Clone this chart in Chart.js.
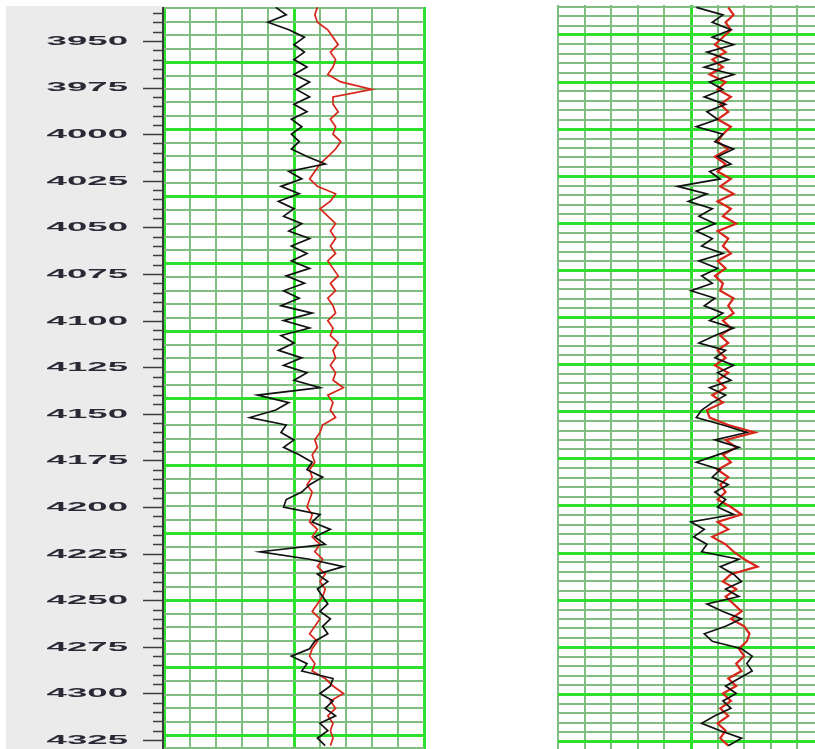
<!DOCTYPE html>
<html>
<head>
<meta charset="utf-8">
<script src="https://cdn.jsdelivr.net/npm/chart.js@4.4.1/dist/chart.umd.min.js"></script>
<style>
  html, body { margin: 0; padding: 0; background: #fff; overflow: hidden; width: 815px; height: 749px; }
  #wrap { position: relative; width: 815px; height: 749px; overflow: hidden; }
  #left { position: absolute; left: 0; top: 0; }
  #right { position: absolute; left: 556px; top: 0; }
</style>
</head>
<body>
<div id="wrap">
  <canvas id="left" width="430" height="749"></canvas>
  <canvas id="right" width="270" height="749"></canvas>
</div>
<script>
// depth samples (shared by all four curves)
const DEPTHS = [
  3932, 3936, 3940, 3944, 3948, 3952, 3956, 3960, 3964, 3968,
  3972, 3976, 3980, 3984, 3988, 3992, 3996, 4000, 4004, 4008,
  4012, 4016, 4020, 4024, 4028, 4032, 4036, 4040, 4044, 4048,
  4052, 4056, 4060, 4064, 4068, 4072, 4076, 4080, 4084, 4088,
  4092, 4096, 4100, 4104, 4108, 4112, 4116, 4120, 4124, 4128,
  4132, 4136, 4140, 4144, 4148, 4152, 4156, 4160, 4164, 4168,
  4172, 4176, 4180, 4184, 4188, 4192, 4196, 4200, 4204, 4208,
  4212, 4216, 4220, 4224, 4228, 4232, 4236, 4240, 4244, 4248,
  4252, 4256, 4260, 4264, 4268, 4272, 4276, 4280, 4284, 4288,
  4292, 4296, 4300, 4304, 4308, 4312, 4316, 4320, 4324, 4328
];

// left track, values in grid divisions (0..10)
const LEFT_BLACK = [
  4.3, 4.7, 4.0, 4.8, 5.4, 5.0, 5.4, 5.0, 5.5, 5.0,
  5.6, 5.1, 5.6, 5.0, 5.5, 4.9, 5.3, 4.9, 5.2, 4.9,
  5.5, 6.2, 4.8, 5.3, 4.5, 5.2, 4.4, 5.0, 4.6, 5.3,
  4.8, 5.6, 4.9, 5.5, 4.9, 5.6, 4.7, 5.4, 4.6, 5.2,
  4.5, 5.7, 4.6, 5.6, 4.5, 5.0, 4.4, 5.3, 4.6, 5.5,
  5.0, 6.0, 3.6, 4.8, 4.3, 3.3, 4.7, 4.5, 5.0, 4.6,
  5.2, 5.7, 5.5, 6.1, 5.6, 5.3, 4.7, 4.6, 6.0, 5.7,
  6.4, 5.8, 6.2, 3.7, 5.6, 6.9, 5.9, 6.3, 5.9, 6.1,
  6.3, 6.0, 6.4, 6.1, 6.3, 5.8, 5.6, 4.9, 5.5, 5.3,
  6.5, 6.4, 6.0, 6.5, 6.2, 6.6, 6.0, 6.3, 5.9, 6.2
];
const LEFT_RED = [
  5.9, 5.8, 5.9, 6.3, 6.5, 6.7, 6.4, 6.6, 6.5, 6.3,
  6.8, 8.0, 6.5, 6.5, 6.7, 6.4, 6.6, 6.5, 6.8, 6.6,
  6.3, 6.0, 5.8, 5.6, 5.9, 6.6, 6.4, 6.0, 6.3, 6.6,
  6.4, 6.6, 6.4, 6.6, 6.3, 6.5, 6.7, 6.4, 6.6, 6.3,
  6.5, 6.6, 6.3, 6.5, 6.4, 6.7, 6.5, 6.6, 6.4, 6.6,
  6.5, 6.9, 6.3, 6.5, 6.4, 6.6, 6.1, 6.0, 5.8, 5.9,
  5.7, 5.8, 5.6, 5.7, 5.5, 5.7, 5.6, 5.5, 5.7, 5.6,
  5.9, 5.7, 6.0, 5.8, 6.1, 5.9, 6.2, 6.0, 6.2, 6.1,
  5.9, 5.7, 6.0, 5.8, 5.6, 5.9, 5.7, 5.6, 5.8, 5.7,
  6.2, 6.5, 6.9, 6.4, 6.6, 6.3, 6.5, 6.4, 6.5, 6.4
];

// right track
const RIGHT_BLACK = [
  5.2, 6.2, 5.8, 6.5, 5.8, 6.6, 5.6, 6.4, 5.5, 6.6,
  5.7, 6.2, 5.5, 6.3, 5.6, 6.0, 5.2, 6.2, 5.9, 6.6,
  6.0, 6.5, 5.7, 6.1, 4.5, 5.6, 4.9, 5.8, 5.3, 5.9,
  5.2, 5.8, 5.4, 6.2, 5.3, 6.0, 5.4, 5.8, 5.0, 5.9,
  5.5, 6.2, 5.7, 6.6, 5.9, 5.3, 6.3, 5.9, 6.6, 6.0,
  6.5, 5.7, 6.3, 5.8, 5.4, 5.2, 6.2, 7.1, 5.9, 6.8,
  6.0, 5.2, 6.1, 5.8, 6.4, 5.9, 6.3, 6.0, 6.6, 5.0,
  5.5, 5.1, 5.6, 5.4, 6.8, 6.1, 6.6, 6.9, 6.3, 6.8,
  5.6, 6.2, 6.9, 6.3, 5.5, 5.8, 6.9, 7.3, 7.1, 7.3,
  6.8, 6.3, 6.7, 6.2, 6.5, 5.9, 5.4, 6.1, 6.9, 6.4
];
const RIGHT_RED = [
  6.4, 6.6, 6.3, 6.5, 6.2, 5.9, 6.3, 5.8, 6.2, 5.7,
  6.3, 6.0, 6.5, 6.1, 6.4, 6.0, 6.5, 6.2, 6.0, 6.4,
  5.9, 6.3, 6.0, 6.5, 6.1, 6.6, 6.0, 6.5, 6.2, 6.7,
  6.0, 6.4, 6.2, 6.5, 6.0, 6.3, 5.9, 6.2, 6.1, 6.6,
  6.4, 6.6, 6.2, 6.5, 6.1, 6.4, 6.0, 6.3, 5.9, 6.4,
  6.0, 6.3, 5.8, 6.2, 5.6, 5.7, 6.4, 7.4, 6.3, 6.7,
  6.2, 6.5, 6.0, 6.4, 6.1, 6.3, 6.0, 6.5, 6.9, 6.0,
  6.4, 5.8, 6.3, 6.6, 7.0, 7.5, 6.5, 6.2, 6.7, 6.3,
  6.6, 6.9, 6.5, 7.0, 7.2, 7.1, 6.8, 7.0, 6.7, 6.9,
  6.4, 6.7, 6.2, 6.5, 6.1, 6.4, 6.0, 6.3, 6.1, 6.4
];

// depth axis labels (left)
const DEPTH_LABELS = [3950, 3975, 4000, 4025, 4050, 4075, 4100, 4125, 4150, 4175, 4200, 4225, 4250, 4275, 4300, 4325];
const DEPTH_MINOR = [
  3935, 3940, 3945, 3955, 3960, 3965, 3970, 3980, 3985, 3990, 3995, 4005, 4010, 4015, 4020,
  4030, 4035, 4040, 4045, 4055, 4060, 4065, 4070, 4080, 4085, 4090, 4095, 4105, 4110, 4115, 4120,
  4130, 4135, 4140, 4145, 4155, 4160, 4165, 4170, 4180, 4185, 4190, 4195, 4205, 4210, 4215, 4220,
  4230, 4235, 4240, 4245, 4255, 4260, 4265, 4270, 4280, 4285, 4290, 4295, 4305, 4310, 4315, 4320
];

const MAJOR_GRID = '#2ee02e';
const MINOR_GRID = '#80bd80';
const BLACK = '#111111';
const RED = '#d8261a';

function toPoints(vals) {
  return DEPTHS.map((d, i) => ({ x: vals[i], y: d }));
}

function makeGrid(majors) {
  return {
    drawTicks: false,
    color: c => (majors.indexOf(c.tick && c.tick.value) >= 0 ? MAJOR_GRID : MINOR_GRID),
    lineWidth: c => (majors.indexOf(c.tick && c.tick.value) >= 0 ? 3 : 2)
  };
}

// gray label panel + stretched depth labels, positioned via the depth scale
const depthAxis = {
  id: 'depthAxis',
  beforeDraw(chart) {
    const { ctx, chartArea } = chart;
    ctx.save();
    ctx.fillStyle = '#ebebeb';
    ctx.fillRect(6, 6, chartArea.left - 6, chart.height - 6);
    ctx.restore();
  },
  afterDraw(chart) {
    const { ctx, chartArea, scales } = chart;
    const y = scales.y;
    const left = chartArea.left;
    ctx.save();
    ctx.strokeStyle = '#3c3c3c';
    ctx.lineWidth = 1.5;
    DEPTH_MINOR.forEach(v => {
      const py = Math.round(y.getPixelForValue(v)) + 0.5;
      ctx.beginPath(); ctx.moveTo(153, py); ctx.lineTo(left, py); ctx.stroke();
    });
    DEPTH_LABELS.forEach(v => {
      const py = Math.round(y.getPixelForValue(v)) + 0.5;
      ctx.beginPath(); ctx.moveTo(143, py); ctx.lineTo(left, py); ctx.stroke();
    });
    ctx.lineWidth = 2;
    ctx.beginPath(); ctx.moveTo(left - 1, chartArea.top); ctx.lineTo(left - 1, chartArea.bottom); ctx.stroke();

    ctx.fillStyle = '#2a2a36';
    ctx.font = 'bold 12.5px "Liberation Sans", Arial, sans-serif';
    ctx.textAlign = 'right';
    ctx.textBaseline = 'middle';
    DEPTH_LABELS.forEach(v => {
      const py = y.getPixelForValue(v);
      ctx.save();
      ctx.translate(128, py + 0.5);
      ctx.scale(2.93, 1);
      ctx.fillText(String(v), 0, 0);
      ctx.restore();
    });
    ctx.restore();
  }
};

const whiteArea = {
  id: 'whiteArea',
  beforeDraw(chart) {
    const { ctx, chartArea } = chart;
    ctx.save();
    ctx.fillStyle = '#ffffff';
    ctx.fillRect(chartArea.left, chartArea.top, chartArea.width, chartArea.height);
    ctx.restore();
  }
};

function makeTrack(canvasId, black, red, opts) {
  return new Chart(document.getElementById(canvasId).getContext('2d'), {
    type: 'line',
    data: {
      datasets: [
        { data: toPoints(black), borderColor: BLACK, borderWidth: 1.7 },
        { data: toPoints(red), borderColor: RED, borderWidth: opts.redWidth }
      ]
    },
    options: {
      responsive: false,
      animation: false,
      devicePixelRatio: 1,
      layout: { padding: opts.padding },
      elements: { point: { radius: 0 }, line: { tension: 0 } },
      plugins: { legend: { display: false }, tooltip: { enabled: false } },
      scales: {
        x: {
          type: 'linear', min: 0, max: 10,
          ticks: { display: false, stepSize: 1, maxTicksLimit: 1000 },
          grid: makeGrid(opts.majorX),
          border: { display: false }
        },
        y: {
          type: 'linear', reverse: true, display: false,
          min: opts.depthMin, max: opts.depthMax
        },
        yg: {
          type: 'linear', position: 'left', reverse: true,
          min: opts.gridMin, max: opts.gridMax,
          ticks: { display: false, stepSize: 1, maxTicksLimit: 1000, includeBounds: false },
          grid: makeGrid(opts.majorY),
          border: { display: false }
        }
      }
    },
    plugins: opts.plugins
  });
}

const YG_MAJ = [-5, 0, 5, 10, 15, 20, 25, 30, 35, 40, 45, 50, 55, 60, 65, 70, 75];

makeTrack('left', LEFT_BLACK, LEFT_RED, {
  padding: { left: 164, top: 7, right: 6, bottom: 0 },
  depthMin: 3931.8, depthMax: 4329.8,
  gridMin: -4.09, gridMax: 51.04,
  majorX: [0, 5, 10], majorY: YG_MAJ,
  redWidth: 1.7,
  plugins: [depthAxis, whiteArea]
});

makeTrack('right', RIGHT_BLACK, RIGHT_RED, {
  padding: { left: 2, top: 5, right: 2, bottom: 0 },
  depthMin: 3930.7, depthMax: 4329.8,
  gridMin: -3.18, gridMax: 75.8,
  majorX: [5, 10], majorY: YG_MAJ,
  redWidth: 2.2,
  plugins: [whiteArea]
});
</script>
</body>
</html>
